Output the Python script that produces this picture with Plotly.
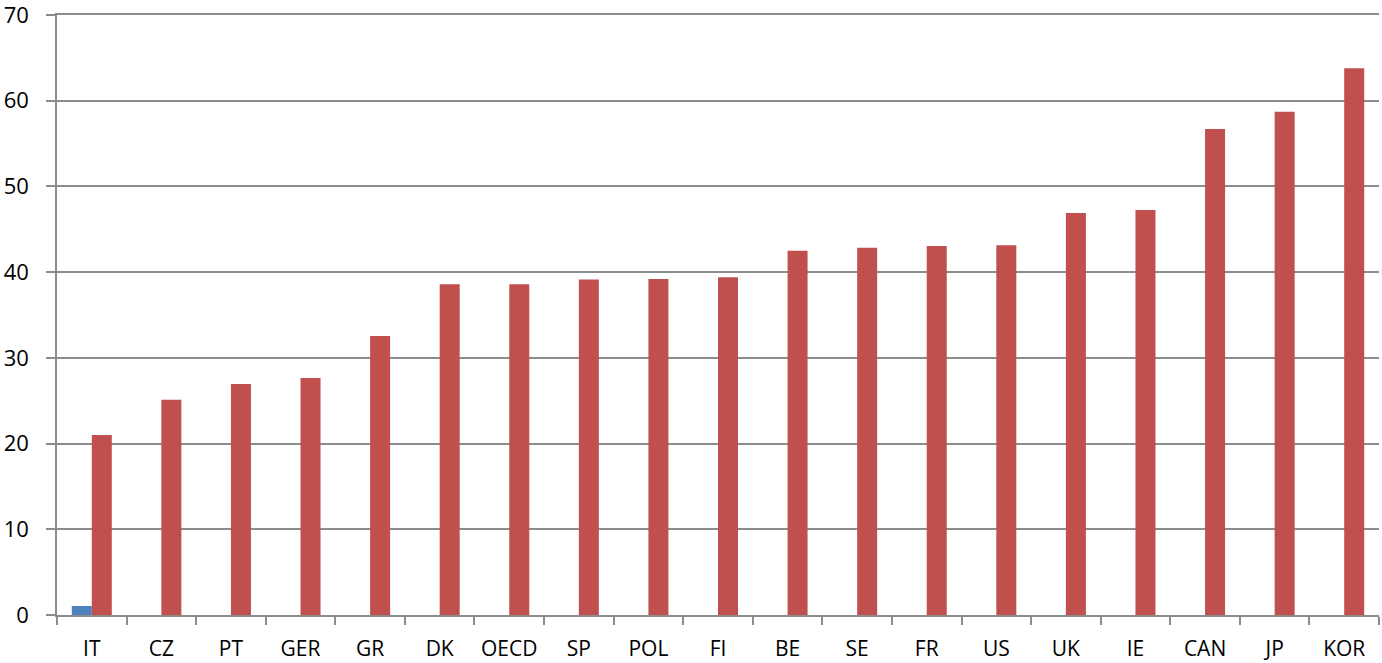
import plotly.graph_objects as go

categories = ["IT", "CZ", "PT", "GER", "GR", "DK", "OECD", "SP", "POL", "FI",
              "BE", "SE", "FR", "US", "UK", "IE", "CAN", "JP", "KOR"]
series_blue = [1.05, 0, 0, 0, 0, 0, 0, 0, 0, 0, 0, 0, 0, 0, 0, 0, 0, 0, 0]
series_red = [21.0, 25.1, 26.95, 27.65, 32.55, 38.6, 38.6, 39.15, 39.2, 39.4,
              42.5, 42.85, 43.05, 43.15, 46.9, 47.25, 56.7, 58.7, 63.8]
y_ticks = [0, 10, 20, 30, 40, 50, 60, 70]

fig = go.Figure()
fig.add_trace(go.Bar(x=categories, y=series_blue, marker_color="#4F81BD",
                     marker_line_width=0, showlegend=False))
fig.add_trace(go.Bar(x=categories, y=series_red, marker_color="#C0504D",
                     marker_line_width=0, showlegend=False))

axis_grey = "#8c8c8c"
fig.update_layout(
    width=1382, height=663,
    margin=dict(l=57, r=3, t=15, b=48, autoexpand=False),
    paper_bgcolor="white", plot_bgcolor="white",
    barmode="group", bargap=0.425, bargroupgap=0,
    font=dict(family="Open Sans, Liberation Sans, sans-serif", size=21, color="black"),
    xaxis=dict(
        type="category", tickson="boundaries", ticks="outside", ticklen=8,
        tickcolor=axis_grey, tickwidth=1.5, showline=True, mirror=True,
        linecolor=axis_grey, linewidth=1.5, showgrid=False,
        tickfont=dict(size=21), ticklabelstandoff=14,
    ),
    yaxis=dict(
        range=[0, 70], tickvals=y_ticks, ticks="outside", ticklen=9,
        tickcolor=axis_grey, tickwidth=1.5, showline=True, linecolor=axis_grey,
        linewidth=1.5, showgrid=True, gridcolor=axis_grey, gridwidth=1.5,
        zeroline=False, tickfont=dict(size=22), ticklabelstandoff=13,
        ticklabeloverflow="allow",
    ),
)

fig.write_html("out.html", config={"displayModeBar": False},
               post_script="document.body.style.margin='0';")
